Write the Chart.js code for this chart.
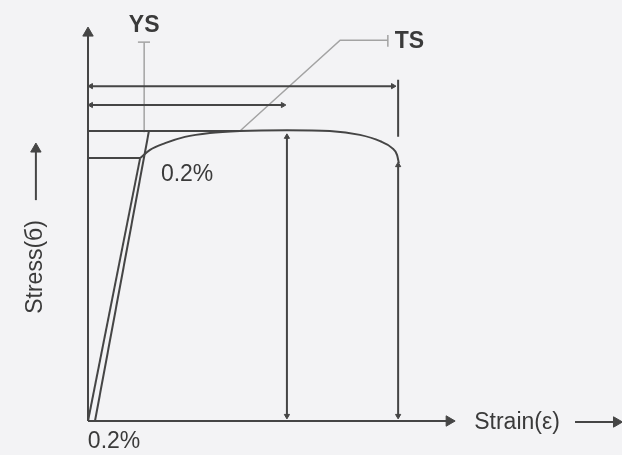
<!DOCTYPE html>
<html>
<head>
<meta charset="utf-8">
<script src="https://cdn.jsdelivr.net/npm/chart.js@4/dist/chart.umd.min.js"></script>
<style>
  html, body { margin: 0; padding: 0; background: #f3f3f5; }
  #wrap { width: 622px; height: 455px; position: relative; }
</style>
</head>
<body>
<div id="wrap"><canvas id="ssChart"></canvas></div>
<script>
// strain (x) and stress (y) in arbitrary diagram units, drawn axes run 0..100
const elasticX = [0, 14.2];
const elasticY = [0, 66.9];
const offsetX = [1.9, 16.6];          // 0.2% offset line
const offsetY = [0, 73.8];
const curveX = [14.2, 16.9, 21.0, 26.4, 33.2, 41.4, 54.2, 65.9, 74.1, 79.6, 82.8, 84.2, 84.7];
const curveY = [66.9, 69.0, 70.7, 72.3, 73.3, 73.8, 74.0, 73.8, 72.8, 71.2, 69.5, 67.7, 65.6];

const yieldStrain = 14.2, yieldStress = 66.9;
const tsStrain = 41.4, tsStress = 74.0;
const uniformStrain = 54.2, fractureStrain = 84.5;
const axisEndX = 98.4, axisEndY = 98.7;

// dimension arrows
const dimTotalY = 85.2, dimTotalX = [0.8, 83.1];
const dimUniformY = 80.4, dimUniformX = [0.8, 53.1];
const dimUniformV = [72.3, 1.3];
const dimFractureV = [65.1, 1.3];
const fractureTick = [86.8, 72.3];

// leaders for labels
const ysLeaderX = [15.3, 15.3], ysLeaderY = [96.4, 73.5];
const ysCapX = [13.6, 16.9], ysCapY = [96.4, 96.4];
const tsLeaderX = [tsStrain, 68.7, 81.7], tsLeaderY = [tsStress - 0.2, 96.9, 96.9];
const tsCapX = [81.7, 81.7], tsCapY = [98.2, 95.2];

// arrows next to the axis names
const strainArrowX = [132.7, 144.0], strainArrowY = [-0.25, -0.25];
const stressArrowX = [-14.2, -14.2], stressArrowY = [56.2, 69.2];

const labels = [
  { text: 'YS', x: 15.3, y: 100.6, bold: true },
  { text: 'TS', x: 87.6, y: 96.6, bold: true },
  { text: '0.2%', x: 27.0, y: 62.8 },
  { text: '0.2%', x: 7.1, y: -5.3 },
  { text: 'Strain(ε)', x: 116.9, y: -0.3 },
  { text: 'Stress(б)', x: -14.2, y: 39.2, rot: -90 }
];

const dark = '#454545';
const light = '#a3a3a3';

function seg(xs, ys, opt) {
  opt = opt || {};
  const n = xs.length;
  const r0 = opt.start ? opt.start[0] : 0, r1 = opt.end ? opt.end[0] : 0;
  const radii = xs.map((_, i) => i === 0 ? r0 : (i === n - 1 ? r1 : 0));
  const rots = xs.map((_, i) => i === 0 ? (opt.start ? opt.start[1] : 0) : (opt.end ? opt.end[1] : 0));
  return {
    data: xs.map((x, i) => ({ x: x, y: ys[i] })),
    showLine: true,
    borderColor: opt.color || dark,
    borderWidth: opt.width || 2,
    cubicInterpolationMode: opt.smooth ? 'monotone' : 'default',
    pointRadius: radii,
    pointStyle: 'triangle',
    pointRotation: rots,
    pointBackgroundColor: opt.color || dark,
    pointBorderColor: opt.color || dark,
    pointBorderWidth: 1,
    clip: false
  };
}

const labelPlugin = {
  id: 'labels',
  afterDatasetsDraw(chart) {
    const ctx = chart.ctx;
    const sx = chart.scales.x, sy = chart.scales.y;
    labels.forEach(l => {
      ctx.save();
      ctx.translate(sx.getPixelForValue(l.x), sy.getPixelForValue(l.y));
      if (l.rot) ctx.rotate(l.rot * Math.PI / 180);
      ctx.font = (l.bold ? 'bold ' : '') + '23px "Liberation Sans", Arial, sans-serif';
      ctx.fillStyle = '#3a3a3a';
      ctx.textAlign = 'center';
      ctx.textBaseline = 'middle';
      ctx.fillText(l.text, 0, 0);
      ctx.restore();
    });
  }
};

new Chart(document.getElementById('ssChart'), {
  type: 'scatter',
  data: {
    datasets: [
      // axes
      seg([0, 0], [0, axisEndY], { end: [6, 0] }),
      seg([0, axisEndX], [0, 0], { end: [6, 90] }),
      seg(strainArrowX, strainArrowY, { end: [6, 90] }),
      seg(stressArrowX, stressArrowY, { end: [6, 0] }),
      // curve and elastic lines
      seg(elasticX, elasticY),
      seg(offsetX, offsetY),
      seg(curveX, curveY, { smooth: true }),
      // stress levels
      seg([0, tsStrain], [tsStress - 0.2, tsStress - 0.2]),
      seg([0, yieldStrain], [yieldStress, yieldStress]),
      // dimension lines
      seg(dimTotalX, [dimTotalY, dimTotalY], { start: [3, 270], end: [3, 90] }),
      seg(dimUniformX, [dimUniformY, dimUniformY], { start: [3, 270], end: [3, 90] }),
      seg([uniformStrain, uniformStrain], dimUniformV, { start: [3, 0], end: [3, 180] }),
      seg([fractureStrain, fractureStrain], dimFractureV, { start: [3, 0], end: [3, 180] }),
      seg([fractureStrain, fractureStrain], fractureTick),
      // leaders
      seg(ysLeaderX, ysLeaderY, { color: light, width: 1.5 }),
      seg(ysCapX, ysCapY, { color: light, width: 1.5 }),
      seg(tsLeaderX, tsLeaderY, { color: light, width: 1.5 }),
      seg(tsCapX, tsCapY, { color: light, width: 1.5 })
    ]
  },
  options: {
    responsive: true,
    maintainAspectRatio: false,
    animation: false,
    layout: { padding: 0, autoPadding: false },
    scales: {
      x: { type: 'linear', min: -23.98, max: 145.5, display: false },
      y: { type: 'linear', min: -8.65, max: 107.12, display: false }
    },
    plugins: { legend: { display: false }, tooltip: { enabled: false } }
  },
  plugins: [labelPlugin]
});
</script>
</body>
</html>
